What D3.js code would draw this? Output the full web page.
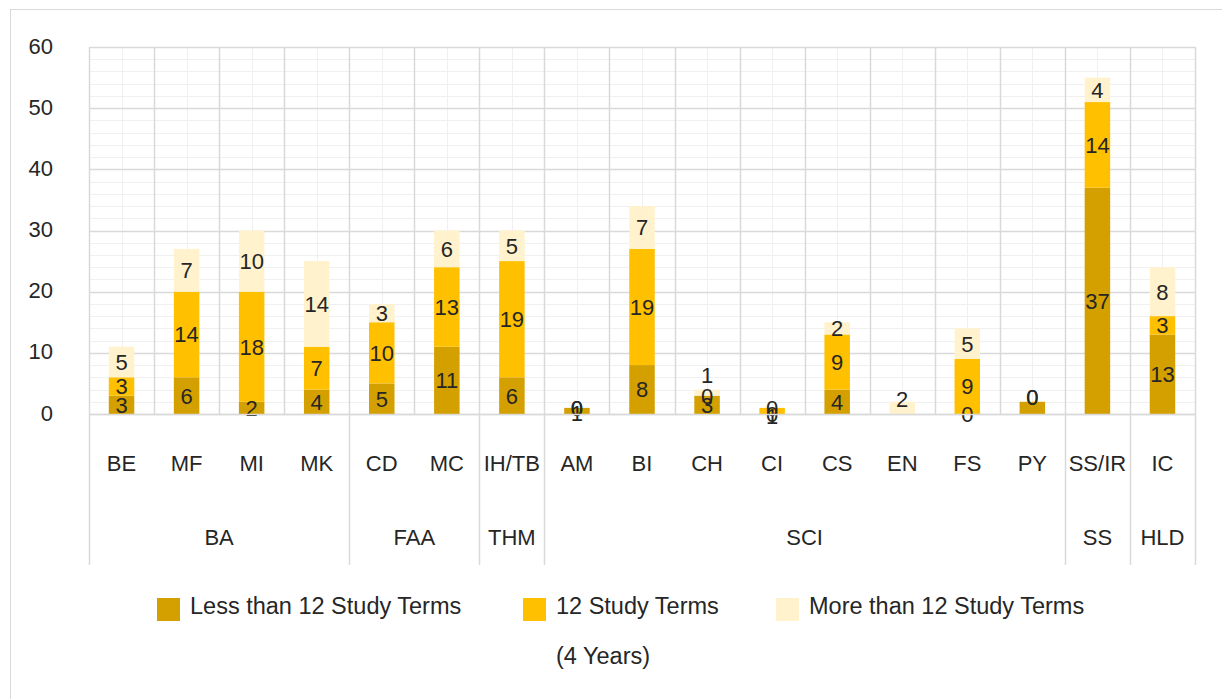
<!DOCTYPE html>
<html>
<head>
<meta charset="utf-8">
<script src="https://cdn.jsdelivr.net/npm/d3@7"></script>
<style>
    body { margin: 0; background: #fff; }
    text { font-family: "Liberation Sans", Arial, sans-serif; fill: #262626; }
</style>
</head>
<body>
<svg id="chart" width="1222" height="699"></svg>
<script>
// categories (two level axis)
var majors = ["BE", "MF", "MI", "MK", "CD", "MC", "IH/TB", "AM", "BI", "CH", "CI", "CS", "EN", "FS", "PY", "SS/IR", "IC"];
var groups = ["BA", "BA", "BA", "BA", "FAA", "FAA", "THM", "SCI", "SCI", "SCI", "SCI", "SCI", "SCI", "SCI", "SCI", "SS", "HLD"];

// series values
var lessTerms = [3, 6, 2, 4, 5, 11, 6, 1, 8, 3, 0, 4, 0, 0, 2, 37, 13];
var fullTerms = [3, 14, 18, 7, 10, 13, 19, 0, 19, 0, 1, 9, 0, 9, 0, 14, 3];
var moreTerms = [5, 7, 10, 14, 3, 6, 5, 0, 7, 1, 0, 2, 2, 5, 0, 4, 8];

var seriesNames = ["Less than 12 Study Terms", "12 Study Terms", "More than 12 Study Terms"];
var seriesColors = ["#d4a000", "#ffc000", "#fff2cc"];

// tick labels
var yTicks = [0, 10, 20, 30, 40, 50, 60];
var yMinorTicks = d3.range(0, 61, 2);

// labels that were removed in the original chart (major|series index)
var hiddenLabels = ["EN|0", "EN|1", "PY|0"];
// labels that were dragged by hand in the original (px offsets)
var labelNudge = { "CH|2": -18, "EN|2": -9, "PY|1": -5, "PY|2": -5, "CI|1": 5, "AM|0": 2 };

var svg = d3.select("#chart");

// outer chart border
svg.append("rect")
    .attr("x", 10.5).attr("y", 9.5)
    .attr("width", 1230).attr("height", 700)
    .attr("fill", "none").attr("stroke", "#d9d9d9");

// plot area (note: "top" is taken by window.top)
var plotLeft = 89, plotRight = 1195, plotTop = 47, plotBottom = 414;

var x = d3.scaleBand().domain(majors).range([plotLeft, plotRight]).padding(0);
var y = d3.scaleLinear().domain([0, 60]).range([plotBottom, plotTop]);
var barW = 25.5;

function px(v) { return Math.round(v) + 0.5; }

// minor gridlines
var grid = svg.append("g");
grid.selectAll(".hmin").data(yMinorTicks).enter().append("line")
    .attr("x1", plotLeft).attr("x2", plotRight)
    .attr("y1", function (d) { return px(y(d)); })
    .attr("y2", function (d) { return px(y(d)); })
    .attr("stroke", "#f0f0f0");
grid.selectAll(".vmin").data(majors).enter().append("line")
    .attr("x1", function (d) { return px(x(d) + x.bandwidth() / 2); })
    .attr("x2", function (d) { return px(x(d) + x.bandwidth() / 2); })
    .attr("y1", plotTop).attr("y2", plotBottom)
    .attr("stroke", "#f0f0f0");

// major gridlines
grid.selectAll(".hmaj").data(yTicks).enter().append("line")
    .attr("x1", plotLeft).attr("x2", plotRight)
    .attr("y1", function (d) { return px(y(d)); })
    .attr("y2", function (d) { return px(y(d)); })
    .attr("stroke", "#d9d9d9").attr("stroke-width", 1.5);
grid.selectAll(".vmaj").data(majors.concat(["__end"])).enter().append("line")
    .attr("x1", function (d, i) { return px(i < majors.length ? x(d) : plotRight); })
    .attr("x2", function (d, i) { return px(i < majors.length ? x(d) : plotRight); })
    .attr("y1", plotTop).attr("y2", plotBottom)
    .attr("stroke", "#d9d9d9").attr("stroke-width", 1.5);

// stacked data
var rows = majors.map(function (m, i) {
    return { major: m, less: lessTerms[i], full: fullTerms[i], more: moreTerms[i] };
});
var stack = d3.stack().keys(["less", "full", "more"]);
var layers = stack(rows);

var bars = svg.append("g");
layers.forEach(function (layer, si) {
    bars.selectAll(".s" + si).data(layer).enter().append("rect")
        .attr("x", function (d) { return x(d.data.major) + x.bandwidth() / 2 - barW / 2; })
        .attr("y", function (d) { return y(d[1]); })
        .attr("width", barW)
        .attr("height", function (d) { return y(d[0]) - y(d[1]); })
        .attr("fill", seriesColors[si]);
});

// data labels
var labels = svg.append("g").attr("font-size", 22).attr("text-anchor", "middle");
layers.forEach(function (layer, si) {
    labels.selectAll(".l" + si).data(layer.filter(function (d) {
        return hiddenLabels.indexOf(d.data.major + "|" + si) < 0;
    })).enter().append("text")
        .attr("x", function (d) { return x(d.data.major) + x.bandwidth() / 2; })
        .attr("y", function (d) {
            var nudge = labelNudge[d.data.major + "|" + si] || 0;
            return y((d[0] + d[1]) / 2) + nudge;
        })
        .attr("dy", "0.36em")
        .text(function (d) { return d[1] - d[0]; });
});

// y axis labels
svg.append("g").attr("font-size", 22).attr("text-anchor", "end")
    .selectAll("text").data(yTicks).enter().append("text")
    .attr("x", 53)
    .attr("y", function (d) { return y(d); })
    .attr("dy", "0.3em")
    .text(function (d) { return d; });

// category axis (table style)
var axisG = svg.append("g");
axisG.append("line")
    .attr("x1", plotLeft).attr("x2", plotRight)
    .attr("y1", px(plotBottom)).attr("y2", px(plotBottom))
    .attr("stroke", "#d9d9d9").attr("stroke-width", 1.5);

axisG.selectAll(".cat").data(majors).enter().append("text")
    .attr("x", function (d) { return x(d) + x.bandwidth() / 2; })
    .attr("y", 471)
    .attr("font-size", 22).attr("text-anchor", "middle")
    .text(function (d) { return d; });

// group spans
var spans = [];
groups.forEach(function (g, i) {
    var last = spans[spans.length - 1];
    if (last && last.name == g) { last.end = i; }
    else { spans.push({ name: g, start: i, end: i }); }
});

axisG.selectAll(".grp").data(spans).enter().append("text")
    .attr("x", function (d) { return (x(majors[d.start]) + x(majors[d.end]) + x.bandwidth()) / 2; })
    .attr("y", 545)
    .attr("font-size", 22).attr("text-anchor", "middle")
    .text(function (d) { return d.name; });

var edges = spans.map(function (d) { return x(majors[d.start]); }).concat([plotRight]);
axisG.selectAll(".sep").data(edges).enter().append("line")
    .attr("x1", function (d) { return px(d); })
    .attr("x2", function (d) { return px(d); })
    .attr("y1", plotBottom).attr("y2", 565)
    .attr("stroke", "#d9d9d9").attr("stroke-width", 1.5);

// legend
var legendX = [157, 523, 776];
var legend = svg.append("g").attr("font-size", 23.5);
seriesNames.forEach(function (name, i) {
    legend.append("rect")
        .attr("x", legendX[i]).attr("y", 598)
        .attr("width", 23).attr("height", 23)
        .attr("fill", seriesColors[i]);
    legend.append("text")
        .attr("x", legendX[i] + 33).attr("y", 614)
        .text(name);
});
legend.append("text")
    .attr("x", legendX[1] + 33).attr("y", 664)
    .text("(4 Years)");
</script>
</body>
</html>
